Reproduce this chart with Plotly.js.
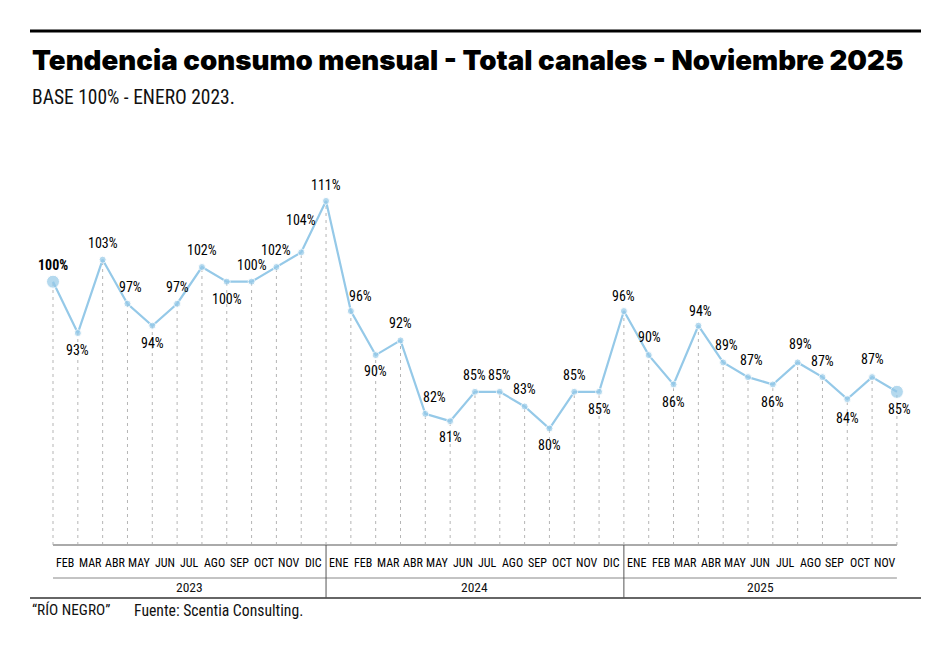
<!DOCTYPE html>
<html>
<head>
<meta charset="utf-8">
<script src="https://cdn.plot.ly/plotly-3.0.1.min.js"></script>
<style>html,body{margin:0;padding:0;background:#fff;}#chart{width:951px;height:649px;}
.annotation-text{font-stretch:condensed;}</style>
</head>
<body>
<div id="chart"></div>
<script>
// ---- Data ----
const months = ["ENE","FEB","MAR","ABR","MAY","JUN","JUL","AGO","SEP","OCT","NOV","DIC",
                "ENE","FEB","MAR","ABR","MAY","JUN","JUL","AGO","SEP","OCT","NOV","DIC",
                "ENE","FEB","MAR","ABR","MAY","JUN","JUL","AGO","SEP","OCT","NOV"];
const years = ["2023","2024","2025"];
const values2023 = [100, 93, 103, 97, 94, 97, 102, 100, 100, 102, 104, 111];
const values2024 = [96, 90, 92, 82, 81, 85, 85, 83, 80, 85, 85, 96];
const values2025 = [90, 86, 94, 89, 87, 86, 89, 87, 84, 87, 85];

// ---- Label placement (style only) ----
const labelYShift = [17,-17,17,17,-17,17,17,-17,17,17,32,16,
                     15,-16,17,17,-16,17,17,17,-16,17,-17,15,
                     18,-18,15,17,17,-18,18,16,-19,18,-17];
const labelXShift = [0,0,0,3,0,0,0,0,0,0,0,0,
                     10,0,0,9,0,0,0,0,0,0,0,0,
                     1,0,2,3,3,0,3,0,0,0,3];

const values = values2023.concat(values2024, values2025);
const xs = values.map((_, i) => i);
const n = values.length;

// pixel geometry helpers
const PLOT_TOP = 150, PLOT_BOTTOM = 545;
const H = PLOT_BOTTOM - PLOT_TOP;
const py = p => (PLOT_BOTTOM - p) / H;

const yMin = 64.13, yMax = 117.94;

// dashed drop lines from each point to the axis
const dropX = [], dropY = [];
xs.forEach((x, i) => { dropX.push(x, x, null); dropY.push(yMin, values[i], null); });

const markerSizes = values.map((_, i) => (i === 0 || i === n - 1) ? 13 : 7);

const traces = [
  {
    x: dropX, y: dropY, type: 'scatter', mode: 'lines',
    line: {color: '#b5b5b5', width: 1, dash: '3px,4px'},
    hoverinfo: 'skip', cliponaxis: false
  },
  {
    x: xs, y: values, type: 'scatter', mode: 'lines+markers',
    line: {color: '#95c9e8', width: 2.2},
    marker: {color: '#95c9e8', size: markerSizes},
    cliponaxis: false,
    hovertemplate: '%{y}%<extra></extra>'
  }
];

const narrow = 'Roboto, "Liberation Sans", sans-serif';
const labelFont = {family: narrow, size: 14, color: '#000'};
const annotations = [];

values.forEach((v, i) => {
  annotations.push({
    x: i, y: v, xref: 'x', yref: 'y',
    text: i === 0 ? '<b>' + v + '%</b>' : v + '%',
    showarrow: false, xanchor: 'center', yanchor: 'middle',
    xshift: labelXShift[i], yshift: labelYShift[i],
    font: labelFont
  });
});

// month labels (between points)
for (let i = 1; i < n; i++) {
  annotations.push({
    x: i - 0.5, y: 0, xref: 'x', yref: 'paper',
    text: months[i], showarrow: false, xanchor: 'center', yanchor: 'middle',
    yshift: -18, font: {family: narrow, size: 12, color: '#000'}
  });
}

// year labels
const yearStart = [0, 11, 23];
const yearEnd = [11, 23, 34];
years.forEach((yr, k) => {
  annotations.push({
    x: (yearStart[k] + yearEnd[k]) / 2, y: 0, xref: 'x', yref: 'paper',
    text: yr, showarrow: false, xanchor: 'center', yanchor: 'middle',
    yshift: -42, font: {family: narrow, size: 13.5, color: '#111'}
  });
});

// titles and footer
const titleIndex = annotations.length;
annotations.push({
  x: 0, y: py(60), xref: 'paper', yref: 'paper', xanchor: 'left', yanchor: 'middle',
  text: 'Tendencia consumo mensual - Total canales - Noviembre 2025',
  showarrow: false, font: {family: 'Inter, Roboto, sans-serif', size: 27.7, color: '#000', weight: 900}
});
annotations.push({
  x: 0, y: py(98), xref: 'paper', yref: 'paper', xanchor: 'left', yanchor: 'middle',
  text: 'BASE 100% - ENERO 2023.',
  showarrow: false, font: {family: narrow, size: 19.5, color: '#111'}
});
annotations.push({
  x: 0, y: py(610), xref: 'paper', yref: 'paper', xanchor: 'left', yanchor: 'middle',
  text: '“RÍO NEGRO”', showarrow: false,
  font: {family: narrow, size: 15.3, color: '#111'}
});
annotations.push({
  x: 102 / 891, y: py(610), xref: 'paper', yref: 'paper', xanchor: 'left', yanchor: 'middle',
  text: 'Fuente: Scentia Consulting.', showarrow: false,
  font: {family: narrow, size: 15.7, color: '#111'}
});

// title keeps normal width
const st = document.createElement('style');
st.textContent = '.annotation[data-index="' + titleIndex + '"] .annotation-text{font-stretch:normal;}';
document.head.appendChild(st);

const shapes = [
  // top rule
  {type: 'line', xref: 'paper', yref: 'paper', x0: 0, x1: 1, y0: py(31), y1: py(31), line: {color: '#000', width: 3}},
  // axis line
  {type: 'line', xref: 'x', yref: 'paper', x0: 0, x1: n - 1, y0: 0, y1: 0, line: {color: '#aaaaaa', width: 2}},
  // under months
  {type: 'line', xref: 'x', yref: 'paper', x0: 0, x1: n - 1, y0: py(578), y1: py(578), line: {color: '#888', width: 1}},
  // bottom
  {type: 'line', xref: 'paper', yref: 'paper', x0: 0, x1: 1, y0: py(598), y1: py(598), line: {color: '#666', width: 2}},
  // year separators
  {type: 'line', xref: 'x', yref: 'paper', x0: 11, x1: 11, y0: 0, y1: py(598), line: {color: '#555', width: 1}},
  {type: 'line', xref: 'x', yref: 'paper', x0: 23, x1: 23, y0: 0, y1: py(598), line: {color: '#555', width: 1}}
];

const layout = {
  width: 951, height: 649,
  margin: {l: 30, r: 30, t: PLOT_TOP, b: 649 - PLOT_BOTTOM, pad: 0},
  paper_bgcolor: '#fff', plot_bgcolor: '#fff',
  showlegend: false,
  xaxis: {range: [-0.927, 34.97], showgrid: false, zeroline: false, showticklabels: false, showline: false, ticks: '', fixedrange: true},
  yaxis: {range: [yMin, yMax], showgrid: false, zeroline: false, showticklabels: false, showline: false, ticks: '', fixedrange: true},
  annotations: annotations,
  shapes: shapes
};

Plotly.newPlot('chart', traces, layout, {displayModeBar: false, staticPlot: true});
</script>
</body>
</html>
